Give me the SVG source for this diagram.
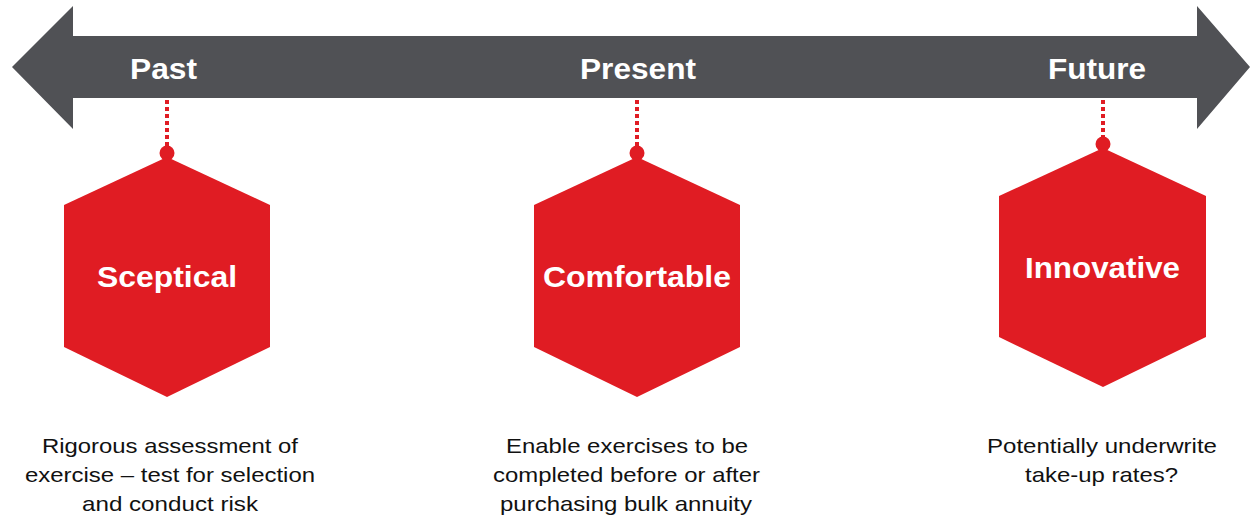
<svg xmlns="http://www.w3.org/2000/svg" width="1250" height="517" viewBox="0 0 1250 517">
<style>
.arrow{fill:#505155}
.era{font-family:"Liberation Sans",Arial,sans-serif;font-weight:bold;font-size:30px;fill:#ffffff;text-anchor:middle}
.hex{fill:#e01c23}
.hl{font-family:"Liberation Sans",Arial,sans-serif;font-weight:bold;font-size:30px;fill:#ffffff;text-anchor:middle}
.desc{font-family:"Liberation Sans",Arial,sans-serif;font-size:21px;fill:#111111;text-anchor:middle}
.dot{stroke:#e01c23;stroke-width:4;stroke-dasharray:4 3;fill:none}
.knob{fill:#e01c23}
</style>
<rect width="1250" height="517" fill="#ffffff"/>
<g id="timeline">
<polygon class="arrow" points="12,67 73,6 73,36 1197,36 1197,6 1250,67 1197,129 1197,98 73,98 73,129"/>
<text class="era" x="163.5" y="79" textLength="67" lengthAdjust="spacingAndGlyphs">Past</text>
<text class="era" x="638" y="79" textLength="116" lengthAdjust="spacingAndGlyphs">Present</text>
<text class="era" x="1097" y="79" textLength="98" lengthAdjust="spacingAndGlyphs">Future</text>
</g>
<g id="connectors">
<line class="dot" x1="167" y1="100" x2="167" y2="148"/>
<line class="dot" x1="637" y1="100" x2="637" y2="148"/>
<line class="dot" x1="1103" y1="100" x2="1103" y2="139"/>
</g>
<g id="sceptical">
<circle class="knob" cx="167" cy="153" r="7.5"/>
<polygon class="hex" points="167,157 270,205 270,347 167,397 64,347 64,205"/>
<text class="hl" x="167" y="287" textLength="140" lengthAdjust="spacingAndGlyphs">Sceptical</text>
<text class="desc" x="170" y="453" textLength="256" lengthAdjust="spacingAndGlyphs">Rigorous assessment of</text>
<text class="desc" x="170" y="482" textLength="290" lengthAdjust="spacingAndGlyphs">exercise – test for selection</text>
<text class="desc" x="170" y="511" textLength="176" lengthAdjust="spacingAndGlyphs">and conduct risk</text>
</g>
<g id="comfortable">
<circle class="knob" cx="637" cy="153" r="7.5"/>
<polygon class="hex" points="637,157 740,205 740,347 637,397 534,347 534,205"/>
<text class="hl" x="637" y="287" textLength="188" lengthAdjust="spacingAndGlyphs">Comfortable</text>
<text class="desc" x="627" y="453" textLength="242" lengthAdjust="spacingAndGlyphs">Enable exercises to be</text>
<text class="desc" x="626.5" y="482" textLength="267" lengthAdjust="spacingAndGlyphs">completed before or after</text>
<text class="desc" x="626" y="511" textLength="252" lengthAdjust="spacingAndGlyphs">purchasing bulk annuity</text>
</g>
<g id="innovative">
<circle class="knob" cx="1103" cy="144" r="7.5"/>
<polygon class="hex" points="1103,148 1206,196 1206,337 1103,387 999,337 999,196"/>
<text class="hl" x="1102.5" y="278" textLength="155" lengthAdjust="spacingAndGlyphs">Innovative</text>
<text class="desc" x="1102" y="453" textLength="230" lengthAdjust="spacingAndGlyphs">Potentially underwrite</text>
<text class="desc" x="1101.5" y="482" textLength="153" lengthAdjust="spacingAndGlyphs">take-up rates?</text>
</g>
</svg>
